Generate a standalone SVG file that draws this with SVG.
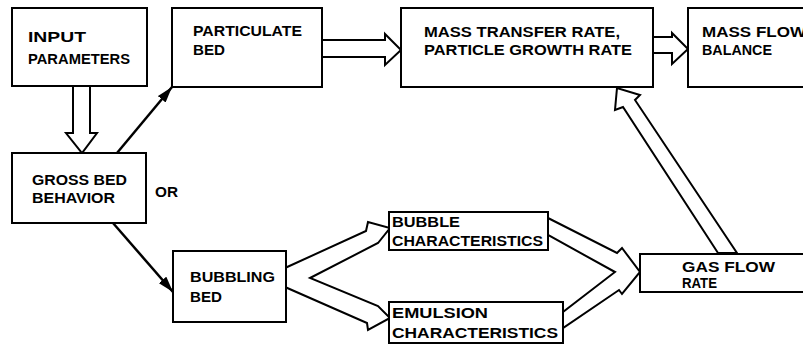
<svg xmlns="http://www.w3.org/2000/svg" width="803" height="344" viewBox="0 0 803 344">
<defs>
<style>
.box{fill:#fff;stroke:#000;stroke-width:2}
.t{font-family:"Liberation Sans",Arial,sans-serif;font-weight:bold;font-size:14px;fill:#000}
.hollow{fill:#fff;stroke:#000;stroke-width:2;stroke-linejoin:miter}
.line{stroke:#000;stroke-width:2.5;fill:none}
</style>
<marker id="ah" viewBox="0 0 16 10" refX="16" refY="5" markerWidth="16" markerHeight="10" markerUnits="userSpaceOnUse" orient="auto">
<path d="M0,0 L16,5 L0,10 Z" fill="#000"/>
</marker>
</defs>
<rect width="803" height="344" fill="#fff"/>
<g id="connectors">
<polygon class="hollow" points="322,40 385,40 385,34 401,50 385,65 385,57 322,57"/>
<polygon class="hollow" points="653,37 672,37 672,33 688,49 672,64 672,53 653,53"/>
<polygon class="hollow" points="73,85 73,133 66,133 82,153 97,133 90,133 90,85"/>
<polygon class="hollow" points="718,253 623,107 615,110 617,88 640,95 635,100 737,253"/>
<polygon class="hollow" points="285,268 366,231 368,222 390,228 378,243 310,278 378,306 390,318 368,330 367,323 285,287"/>
<polygon class="hollow" points="548,218 617,253 622,248 640,272 622,294 619,290 563,328 563,312 615,272 548,235"/>
<line class="line" x1="117" y1="153" x2="172" y2="87" marker-end="url(#ah)"/>
<line class="line" x1="113" y1="223" x2="173" y2="292" marker-end="url(#ah)"/>
</g>
<g id="input-parameters">
<rect class="box" x="12" y="8" width="135" height="78"/>
<text class="t" x="28" y="42" textLength="58" lengthAdjust="spacingAndGlyphs">INPUT</text>
<text class="t" x="28" y="64" textLength="102" lengthAdjust="spacingAndGlyphs">PARAMETERS</text>
</g>
<g id="particulate-bed">
<rect class="box" x="172" y="8" width="150" height="79"/>
<text class="t" x="193" y="36" textLength="109" lengthAdjust="spacingAndGlyphs">PARTICULATE</text>
<text class="t" x="193" y="55" textLength="32" lengthAdjust="spacingAndGlyphs">BED</text>
</g>
<g id="mass-transfer">
<rect class="box" x="401" y="8" width="252" height="79"/>
<text class="t" x="424" y="37" textLength="196" lengthAdjust="spacingAndGlyphs">MASS TRANSFER RATE,</text>
<text class="t" x="424" y="55" textLength="208" lengthAdjust="spacingAndGlyphs">PARTICLE GROWTH RATE</text>
</g>
<g id="mass-flow-balance">
<rect class="box" x="688" y="8" width="120" height="79"/>
<text class="t" x="702" y="37" textLength="104" lengthAdjust="spacingAndGlyphs">MASS FLOW</text>
<text class="t" x="702" y="55" textLength="70" lengthAdjust="spacingAndGlyphs">BALANCE</text>
</g>
<g id="gross-bed-behavior">
<rect class="box" x="12" y="153" width="134" height="70"/>
<text class="t" x="32" y="185" textLength="95" lengthAdjust="spacingAndGlyphs">GROSS BED</text>
<text class="t" x="32" y="203" textLength="83" lengthAdjust="spacingAndGlyphs">BEHAVIOR</text>
</g>
<g id="or-label">
<text class="t" x="155" y="197" textLength="23" lengthAdjust="spacingAndGlyphs">OR</text>
</g>
<g id="bubbling-bed">
<rect class="box" x="173" y="251" width="113" height="71"/>
<text class="t" x="190" y="282" textLength="85" lengthAdjust="spacingAndGlyphs">BUBBLING</text>
<text class="t" x="190" y="302" textLength="32" lengthAdjust="spacingAndGlyphs">BED</text>
</g>
<g id="bubble-characteristics">
<rect class="box" x="389" y="212" width="159" height="38"/>
<text class="t" x="392" y="227" textLength="68" lengthAdjust="spacingAndGlyphs">BUBBLE</text>
<text class="t" x="392" y="246" textLength="151" lengthAdjust="spacingAndGlyphs">CHARACTERISTICS</text>
</g>
<g id="emulsion-characteristics">
<rect class="box" x="389" y="302" width="174" height="41"/>
<text class="t" x="392" y="318" textLength="96" lengthAdjust="spacingAndGlyphs">EMULSION</text>
<text class="t" x="392" y="338" textLength="166" lengthAdjust="spacingAndGlyphs">CHARACTERISTICS</text>
</g>
<g id="gas-flow-rate">
<rect class="box" x="640" y="254" width="170" height="38"/>
<text class="t" x="682" y="272" textLength="93" lengthAdjust="spacingAndGlyphs">GAS FLOW</text>
<text class="t" x="682" y="288" textLength="35" lengthAdjust="spacingAndGlyphs">RATE</text>
</g>
</svg>
